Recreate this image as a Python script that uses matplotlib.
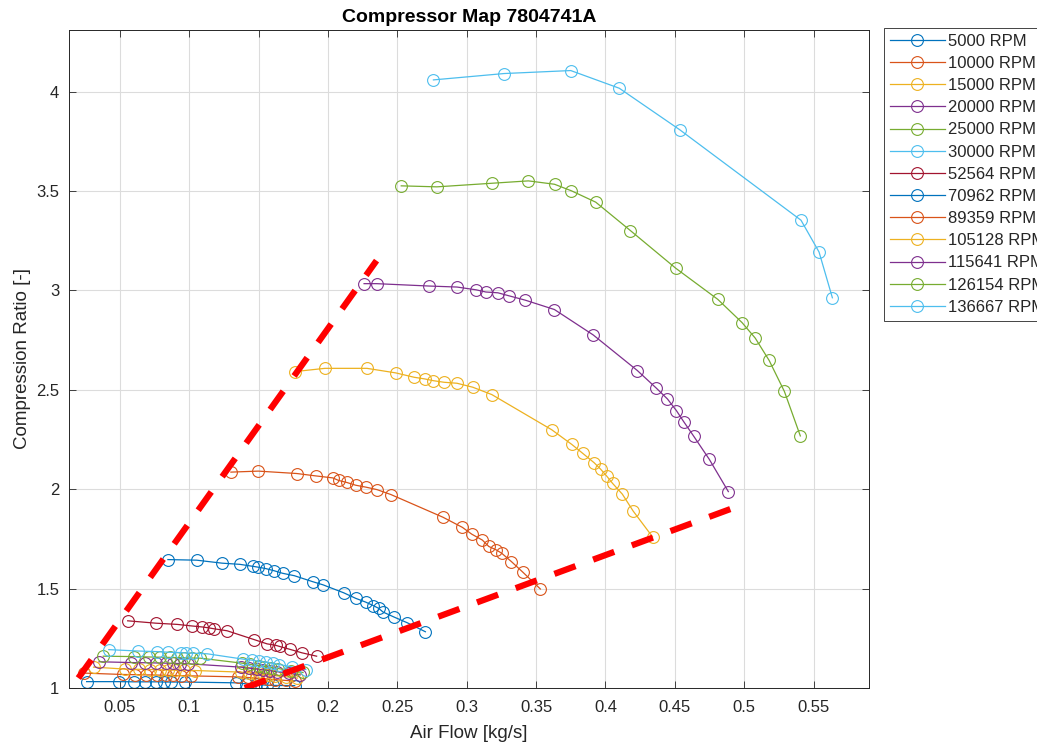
import matplotlib
matplotlib.use('Agg')
import matplotlib.pyplot as plt

# rpm labels
speeds = ['5000', '10000', '15000', '20000', '25000', '30000', '52564',
          '70962', '89359', '105128', '115641', '126154', '136667']

# air flow [kg/s] / pressure ratio, one pair per speed line
flow_5000 = [0.026, 0.049, 0.060, 0.068, 0.076, 0.082, 0.087, 0.097, 0.134, 0.141, 0.148, 0.152, 0.156, 0.160, 0.176]
pr_5000 = [1.032, 1.032, 1.031, 1.031, 1.031, 1.030, 1.030, 1.030, 1.026, 1.021, 1.018, 1.016, 1.014, 1.013, 1.012]

flow_10000 = [0.024, 0.052, 0.061, 0.069, 0.077, 0.083, 0.088, 0.094, 0.101, 0.135, 0.142, 0.148, 0.152, 0.157, 0.162, 0.170, 0.176]
pr_10000 = [1.075, 1.068, 1.067, 1.066, 1.065, 1.064, 1.063, 1.062, 1.061, 1.056, 1.053, 1.050, 1.048, 1.045, 1.042, 1.038, 1.034]

flow_15000 = [0.031, 0.054, 0.064, 0.072, 0.079, 0.085, 0.090, 0.096, 0.104, 0.137, 0.143, 0.148, 0.153, 0.157, 0.162, 0.170, 0.178]
pr_15000 = [1.105, 1.095, 1.094, 1.093, 1.092, 1.091, 1.090, 1.089, 1.088, 1.080, 1.076, 1.072, 1.069, 1.066, 1.062, 1.056, 1.050]

flow_20000 = [0.035, 0.058, 0.068, 0.076, 0.083, 0.088, 0.093, 0.099, 0.137, 0.143, 0.149, 0.153, 0.158, 0.163, 0.172, 0.180]
pr_20000 = [1.132, 1.128, 1.127, 1.126, 1.125, 1.124, 1.123, 1.122, 1.105, 1.100, 1.095, 1.091, 1.087, 1.082, 1.075, 1.066]

flow_25000 = [0.038, 0.060, 0.071, 0.079, 0.086, 0.091, 0.096, 0.102, 0.108, 0.138, 0.144, 0.150, 0.154, 0.159, 0.164, 0.173, 0.182]
pr_25000 = [1.160, 1.158, 1.156, 1.155, 1.154, 1.153, 1.152, 1.151, 1.150, 1.125, 1.119, 1.113, 1.108, 1.103, 1.098, 1.088, 1.078]

flow_30000 = [0.042, 0.063, 0.077, 0.085, 0.094, 0.098, 0.103, 0.113, 0.139, 0.145, 0.150, 0.155, 0.160, 0.165, 0.174, 0.184]
pr_30000 = [1.193, 1.186, 1.183, 1.180, 1.178, 1.176, 1.175, 1.172, 1.145, 1.140, 1.135, 1.130, 1.124, 1.118, 1.106, 1.093]

flow_52564 = [0.0556, 0.0760, 0.0912, 0.1020, 0.1094, 0.1145, 0.1177, 0.1272, 0.1470, 0.1561, 0.1622, 0.1651, 0.1723, 0.1812, 0.1918]
pr_52564 = [1.338, 1.326, 1.320, 1.312, 1.307, 1.302, 1.298, 1.288, 1.243, 1.222, 1.215, 1.209, 1.195, 1.177, 1.160]

flow_70962 = [0.0846, 0.1053, 0.1236, 0.1365, 0.1459, 0.1495, 0.1550, 0.1611, 0.1673, 0.1757, 0.1889, 0.1964,
              0.2113, 0.2200, 0.2272, 0.2325, 0.2365, 0.2397, 0.2476, 0.2572, 0.2702]
pr_70962 = [1.646, 1.643, 1.628, 1.622, 1.612, 1.608, 1.601, 1.590, 1.577, 1.565, 1.535, 1.519,
            1.479, 1.451, 1.432, 1.415, 1.401, 1.382, 1.357, 1.328, 1.283]

flow_89359 = [0.1300, 0.1498, 0.1774, 0.1911, 0.2034, 0.2077, 0.2135, 0.2200, 0.2276, 0.2353, 0.2454,
              0.2829, 0.2969, 0.3036, 0.3113, 0.3159, 0.3212, 0.3252, 0.3322, 0.3404, 0.3531]
pr_89359 = [2.086, 2.091, 2.079, 2.067, 2.057, 2.044, 2.034, 2.020, 2.010, 1.998, 1.973,
            1.859, 1.808, 1.774, 1.744, 1.712, 1.695, 1.678, 1.636, 1.583, 1.498]

flow_105128 = [0.1765, 0.1978, 0.2281, 0.2489, 0.2622, 0.2696, 0.2759, 0.2836, 0.2930, 0.3044, 0.3181,
               0.3613, 0.3758, 0.3837, 0.3919, 0.3965, 0.4008, 0.4052, 0.4122, 0.4200, 0.4340]
pr_105128 = [2.592, 2.608, 2.608, 2.585, 2.563, 2.555, 2.546, 2.538, 2.533, 2.513, 2.476,
             2.299, 2.225, 2.180, 2.133, 2.101, 2.067, 2.029, 1.975, 1.890, 1.760]

flow_115641 = [0.2260, 0.2350, 0.2730, 0.2930, 0.3068, 0.3138, 0.3225, 0.3304, 0.3422, 0.3632,
               0.3912, 0.4230, 0.4366, 0.4447, 0.4512, 0.4565, 0.4636, 0.4749, 0.4886]
pr_115641 = [3.034, 3.034, 3.022, 3.017, 3.003, 2.992, 2.988, 2.973, 2.951, 2.904,
             2.776, 2.597, 2.509, 2.454, 2.395, 2.339, 2.267, 2.150, 1.988]

flow_126154 = [0.2528, 0.2785, 0.3180, 0.3445, 0.3633, 0.3755, 0.3930, 0.4180, 0.4508, 0.4810,
               0.4985, 0.5080, 0.5180, 0.5290, 0.5405]
pr_126154 = [3.526, 3.521, 3.539, 3.551, 3.534, 3.501, 3.444, 3.301, 3.111, 2.955,
             2.838, 2.760, 2.648, 2.492, 2.268]

flow_136667 = [0.2760, 0.3270, 0.3750, 0.4100, 0.4536, 0.5410, 0.5540, 0.5636]
pr_136667 = [4.059, 4.091, 4.106, 4.017, 3.808, 3.353, 3.193, 2.963]

flows = [flow_5000, flow_10000, flow_15000, flow_20000, flow_25000, flow_30000, flow_52564,
         flow_70962, flow_89359, flow_105128, flow_115641, flow_126154, flow_136667]
ratios = [pr_5000, pr_10000, pr_15000, pr_20000, pr_25000, pr_30000, pr_52564,
          pr_70962, pr_89359, pr_105128, pr_115641, pr_126154, pr_136667]

# surge / choke limit lines (endpoints)
surge_x = [0.020, 0.235]
surge_y = [1.05, 3.15]
choke_x = [0.140, 0.490]
choke_y = [1.00, 1.90]

matlab_colors = ['#0072BD', '#D95319', '#EDB120', '#7E2F8E', '#77AC30', '#4DBEEE', '#A2142F']

plt.rcParams['font.family'] = ['Liberation Sans', 'DejaVu Sans']
dark = '#262626'

fig = plt.figure(figsize=(10.37, 7.46), dpi=100)
ax = fig.add_axes([69 / 1037, 1 - 688 / 746, 800 / 1037, 658 / 746])

for i, (fx, pr) in enumerate(zip(flows, ratios)):
    c = matlab_colors[i % len(matlab_colors)]
    ax.plot(fx, pr, '-o', color=c, lw=0.9, markersize=8.5, markerfacecolor='none',
            markeredgewidth=0.8, label=speeds[i] + ' RPM')

ax.plot(surge_x, surge_y, color='red', lw=4.5, linestyle=(0, (3.6, 3.0)), solid_capstyle='butt')
ax.plot(choke_x, choke_y, color='red', lw=4.5, linestyle=(0, (3.6, 3.0)), solid_capstyle='butt')

ax.set_xlim(0.0133, 0.59)
ax.set_ylim(1.0, 4.31)
ax.set_xticks([0.05, 0.1, 0.15, 0.2, 0.25, 0.3, 0.35, 0.4, 0.45, 0.5, 0.55])
ax.set_xticklabels(['0.05', '0.1', '0.15', '0.2', '0.25', '0.3', '0.35', '0.4', '0.45', '0.5', '0.55'])
ax.set_yticks([1, 1.5, 2, 2.5, 3, 3.5, 4])
ax.set_yticklabels(['1', '1.5', '2', '2.5', '3', '3.5', '4'])

ax.grid(True, color='#dcdcdc', lw=0.8)
ax.set_axisbelow(True)
ax.tick_params(direction='in', top=True, right=True, length=5, width=0.6,
               colors=dark, labelsize=12)
ax.tick_params(axis='x', pad=9)
ax.tick_params(axis='y', pad=7)
for s in ax.spines.values():
    s.set_color(dark)
    s.set_linewidth(0.7)

ax.set_xlabel('Air Flow [kg/s]', fontsize=13.5, color=dark, labelpad=7)
ax.set_ylabel('Compression Ratio [-]', fontsize=13.5, color=dark, labelpad=4)
ax.set_title('Compressor Map 7804741A', fontsize=14, fontweight='bold', pad=6)

leg = ax.legend(loc='upper left', bbox_to_anchor=(884 / 1037, 1 - 28 / 746),
                bbox_transform=fig.transFigure, borderaxespad=0, fontsize=12,
                handlelength=3.3, handletextpad=0.2, labelspacing=0.43,
                borderpad=0.35, fancybox=False, framealpha=1)
leg.get_frame().set_edgecolor(dark)
leg.get_frame().set_linewidth(0.6)
for t in leg.get_texts():
    t.set_color(dark)

fig.savefig('out.png', dpi=100)
